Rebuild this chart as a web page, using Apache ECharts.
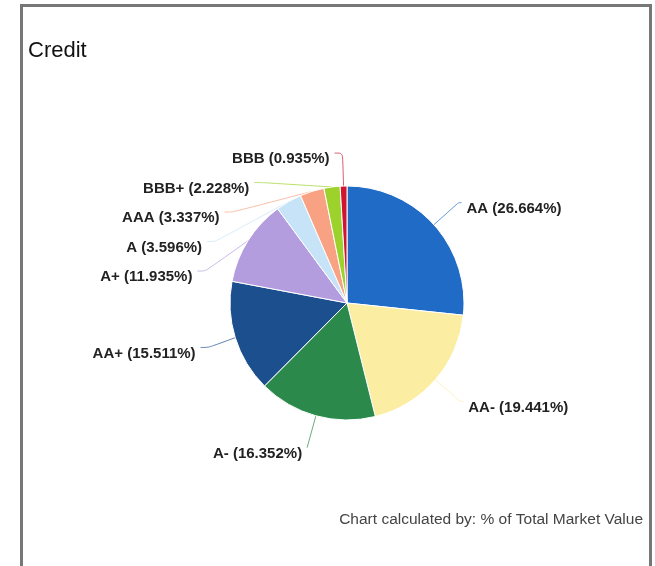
<!DOCTYPE html>
<html>
<head>
<meta charset="utf-8">
<title>Credit</title>
<script src="https://cdn.jsdelivr.net/npm/echarts@6/dist/echarts.min.js"></script>
<style>
  html, body {
    margin: 0;
    padding: 0;
    background: #fff;
  }
  #chart {
    width: 655px;
    height: 566px;
  }
</style>
</head>
<body>
<div id="chart"></div>
<script>
const ratings = ["AA", "AA-", "A-", "AA+", "A+", "A", "AAA", "BBB+", "BBB"];
const weights = [26.664, 19.441, 16.352, 15.511, 11.935, 3.596, 3.337, 2.228, 0.935];
const sliceColors = [
  "#1f6bc6",
  "#fbeea2",
  "#2b8a4b",
  "#1b4f8e",
  "#b39ddf",
  "#c6e3f7",
  "#f9a283",
  "#9dd22d",
  "#cf1530",
];
const titleText = "Credit";
const footnote = "Chart calculated by: % of Total Market Value";

// shorter connector tails for a few slices so the text sits closer to the pie
const shortTail = { AA: 3, "AA-": 3, "A-": 0 };

const chart = echarts.init(document.getElementById("chart"));

const option = {
  animation: false,
  textStyle: {
    fontFamily: "Liberation Sans, Arial, sans-serif",
  },
  title: [
    {
      text: titleText,
      left: 23,
      top: 35,
      textStyle: {
        fontSize: 22,
        fontWeight: "normal",
        color: "#111",
        fontFamily: "Liberation Sans, Arial, sans-serif",
      },
    },
    {
      text: footnote,
      right: 7,
      top: 507,
      textStyle: {
        fontSize: 15.5,
        fontWeight: "normal",
        color: "#444",
        fontFamily: "Liberation Sans, Arial, sans-serif",
      },
    },
  ],
  graphic: [
    {
      type: "rect",
      silent: true,
      shape: { x: 21.5, y: 5.5, width: 629, height: 600 },
      style: { fill: "none", stroke: "#777", lineWidth: 3 },
    },
  ],
  series: [
    {
      type: "pie",
      center: [347, 303],
      radius: 117,
      startAngle: 90,
      clockwise: true,
      avoidLabelOverlap: true,
      itemStyle: {
        borderColor: "#fff",
        borderWidth: 1,
      },
      label: {
        show: true,
        // empty first line pushes the text a little below the connector end
        formatter: (p) => `\n${p.name} (${p.value.toFixed(3)}%)`,
        fontSize: 15,
        fontWeight: "bold",
        color: "#222",
        lineHeight: 12.5,
        fontFamily: "Liberation Sans, Arial, sans-serif",
      },
      labelLine: {
        show: true,
        length: 33,
        length2: 8,
        smooth: 0.3,
        lineStyle: {
          width: 1,
          opacity: 0.7,
        },
      },
      emphasis: { disabled: true },
      data: ratings.map((name, i) => {
        const item = {
          name: name,
          value: weights[i],
          itemStyle: { color: sliceColors[i] },
        };
        if (shortTail[name] != null) {
          item.labelLine = { length2: shortTail[name] };
        }
        return item;
      }),
    },
  ],
};

chart.setOption(option);
</script>
</body>
</html>
